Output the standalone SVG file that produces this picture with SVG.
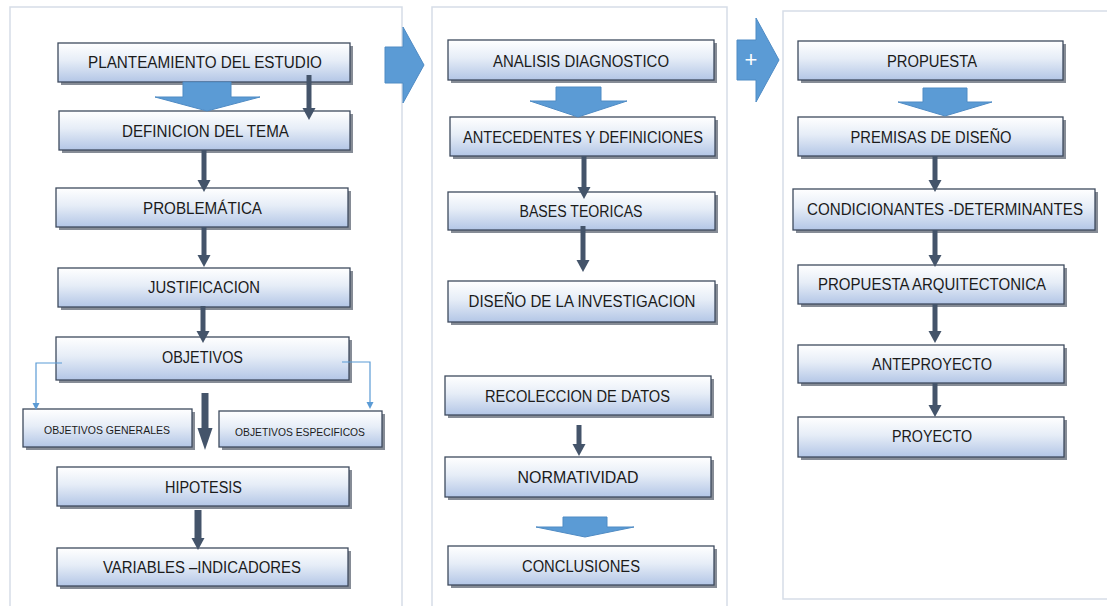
<svg xmlns="http://www.w3.org/2000/svg" width="1107" height="606" viewBox="0 0 1107 606">
<defs>
<linearGradient id="g" x1="0" y1="0" x2="0" y2="1">
<stop offset="0" stop-color="#ffffff"/>
<stop offset="0.45" stop-color="#e6edf7"/>
<stop offset="1" stop-color="#b3c6e6"/>
</linearGradient>
<marker id="ah" markerUnits="userSpaceOnUse" markerWidth="14" markerHeight="14" refX="0" refY="7" orient="auto">
<path d="M0,0.5 L12,7 L0,13.5 z" fill="#44546a"/>
</marker>
<marker id="ahL" markerUnits="userSpaceOnUse" markerWidth="24" markerHeight="16" refX="0" refY="8" orient="auto">
<path d="M0,0.5 L22,8 L0,15.5 z" fill="#44546a"/>
</marker>
<marker id="ahB" markerUnits="userSpaceOnUse" markerWidth="8" markerHeight="8" refX="0" refY="4" orient="auto">
<path d="M0,0.5 L7,4 L0,7.5 z" fill="#5b9bd5"/>
</marker>
<style>
.panel{fill:none;stroke:#d6dde7;stroke-width:1.5}
.sh{fill:#868c96}
.bx{fill:url(#g);stroke:#3e4b5e;stroke-width:1.3}
.t{font-family:"Liberation Sans",Arial,sans-serif;font-size:16px;fill:#1b1b1b;text-anchor:middle}
.ts{font-family:"Liberation Sans",Arial,sans-serif;font-size:11px;fill:#1b1b1b;text-anchor:middle}
.dk{stroke:#44546a;stroke-width:5;fill:none;marker-end:url(#ah)}
.dkL{stroke:#44546a;stroke-width:7;fill:none;marker-end:url(#ahL)}
.lb{stroke:#5b9bd5;stroke-width:1.2;fill:none;marker-end:url(#ahB)}
.blk{fill:#5b9bd5;stroke:#4f8bc4;stroke-width:1}
</style>
</defs>
<rect width="1107" height="606" fill="#ffffff"/>
<g id="panels">
<rect class="panel" x="10" y="7" width="392" height="610"/>
<rect class="panel" x="432" y="7" width="295" height="610"/>
<rect class="panel" x="783" y="11" width="340" height="588"/>
</g>
<g id="n1"><rect class="sh" x="61" y="46" width="292" height="39"/><rect class="bx" x="58" y="43" width="292" height="39"/><text class="t" x="205" y="68" textLength="234" lengthAdjust="spacingAndGlyphs">PLANTEAMIENTO DEL ESTUDIO</text></g>
<g id="n2"><rect class="sh" x="62" y="114" width="291" height="39"/><rect class="bx" x="59" y="111" width="291" height="39"/><text class="t" x="205.5" y="137" textLength="167" lengthAdjust="spacingAndGlyphs">DEFINICION DEL TEMA</text></g>
<g id="n3"><rect class="sh" x="59" y="191" width="292" height="39"/><rect class="bx" x="56" y="188" width="292" height="39"/><text class="t" x="202.5" y="214" textLength="119" lengthAdjust="spacingAndGlyphs">PROBLEMÁTICA</text></g>
<g id="n4"><rect class="sh" x="61" y="271" width="292" height="39"/><rect class="bx" x="58" y="268" width="292" height="39"/><text class="t" x="204" y="293" textLength="112" lengthAdjust="spacingAndGlyphs">JUSTIFICACION</text></g>
<g id="n5"><rect class="sh" x="59" y="340" width="293" height="43"/><rect class="bx" x="56" y="337" width="293" height="43"/><text class="t" x="202.5" y="363" textLength="81" lengthAdjust="spacingAndGlyphs">OBJETIVOS</text></g>
<g id="n6"><rect class="sh" x="26" y="412" width="169" height="38"/><rect class="bx" x="23" y="409" width="169" height="38"/><text class="ts" x="107" y="434" textLength="126" lengthAdjust="spacingAndGlyphs">OBJETIVOS GENERALES</text></g>
<g id="n7"><rect class="sh" x="222" y="414" width="163" height="36"/><rect class="bx" x="219" y="411" width="163" height="36"/><text class="ts" x="300" y="436" textLength="130" lengthAdjust="spacingAndGlyphs">OBJETIVOS ESPECIFICOS</text></g>
<g id="n8"><rect class="sh" x="60" y="470" width="292" height="39"/><rect class="bx" x="57" y="467" width="292" height="39"/><text class="t" x="203.5" y="493" textLength="77" lengthAdjust="spacingAndGlyphs">HIPOTESIS</text></g>
<g id="n9"><rect class="sh" x="60" y="551" width="291" height="38"/><rect class="bx" x="57" y="548" width="291" height="38"/><text class="t" x="202" y="573" textLength="198" lengthAdjust="spacingAndGlyphs">VARIABLES –INDICADORES</text></g>
<g id="n10"><rect class="sh" x="451" y="43" width="266" height="40"/><rect class="bx" x="448" y="40" width="266" height="40"/><text class="t" x="581" y="67" textLength="176" lengthAdjust="spacingAndGlyphs">ANALISIS DIAGNOSTICO</text></g>
<g id="n11"><rect class="sh" x="453" y="120" width="265" height="39"/><rect class="bx" x="450" y="117" width="265" height="39"/><text class="t" x="583" y="143" textLength="240" lengthAdjust="spacingAndGlyphs">ANTECEDENTES Y DEFINICIONES</text></g>
<g id="n12"><rect class="sh" x="451" y="195" width="267" height="38"/><rect class="bx" x="448" y="192" width="267" height="38"/><text class="t" x="581" y="217" textLength="123" lengthAdjust="spacingAndGlyphs">BASES TEORICAS</text></g>
<g id="n13"><rect class="sh" x="451" y="284" width="267" height="41"/><rect class="bx" x="448" y="281" width="267" height="41"/><text class="t" x="582" y="307" textLength="227" lengthAdjust="spacingAndGlyphs">DISEÑO DE LA INVESTIGACION</text></g>
<g id="n14"><rect class="sh" x="448" y="379" width="266" height="39"/><rect class="bx" x="445" y="376" width="266" height="39"/><text class="t" x="577.5" y="402" textLength="185" lengthAdjust="spacingAndGlyphs">RECOLECCION DE DATOS</text></g>
<g id="n15"><rect class="sh" x="448" y="460" width="266" height="40"/><rect class="bx" x="445" y="457" width="266" height="40"/><text class="t" x="578" y="483" textLength="121" lengthAdjust="spacingAndGlyphs">NORMATIVIDAD</text></g>
<g id="n16"><rect class="sh" x="451" y="549" width="266" height="39"/><rect class="bx" x="448" y="546" width="266" height="39"/><text class="t" x="581" y="572" textLength="118" lengthAdjust="spacingAndGlyphs">CONCLUSIONES</text></g>
<g id="n17"><rect class="sh" x="801" y="44" width="265" height="39"/><rect class="bx" x="798" y="41" width="265" height="39"/><text class="t" x="932" y="67" textLength="90" lengthAdjust="spacingAndGlyphs">PROPUESTA</text></g>
<g id="n18"><rect class="sh" x="801" y="120" width="265" height="39"/><rect class="bx" x="798" y="117" width="265" height="39"/><text class="t" x="931" y="143" textLength="161" lengthAdjust="spacingAndGlyphs">PREMISAS DE DISEÑO</text></g>
<g id="n19"><rect class="sh" x="796" y="192" width="302" height="41"/><rect class="bx" x="793" y="189" width="302" height="41"/><text class="t" x="945" y="215" textLength="276" lengthAdjust="spacingAndGlyphs">CONDICIONANTES -DETERMINANTES</text></g>
<g id="n20"><rect class="sh" x="801" y="268" width="266" height="39"/><rect class="bx" x="798" y="265" width="266" height="39"/><text class="t" x="932" y="290" textLength="228" lengthAdjust="spacingAndGlyphs">PROPUESTA ARQUITECTONICA</text></g>
<g id="n21"><rect class="sh" x="801" y="348" width="266" height="38"/><rect class="bx" x="798" y="345" width="266" height="38"/><text class="t" x="932" y="370" textLength="120" lengthAdjust="spacingAndGlyphs">ANTEPROYECTO</text></g>
<g id="n22"><rect class="sh" x="801" y="420" width="266" height="40"/><rect class="bx" x="798" y="417" width="266" height="40"/><text class="t" x="932" y="442" textLength="80" lengthAdjust="spacingAndGlyphs">PROYECTO</text></g>
<g id="connectors">
<polygon class="blk" points="385,47 403,47 403,27 424,65 403,103 403,83 385,83"/>
<polygon class="blk" points="737,40 756,40 756,18 779,60 756,102 756,80 737,80"/>
<text x="751" y="67" font-family="Liberation Sans,Arial,sans-serif" font-size="22" fill="#ffffff" text-anchor="middle">+</text>
<polygon class="blk" points="183,82 231,82 231,97 260,97 207,111 155,97 183,97"/>
<polygon class="blk" points="556,87 601,87 601,101 627,101 578,117 530,101 556,101"/>
<polygon class="blk" points="923,88 967,88 967,102 992,102 945,116 898,102 923,102"/>
<polygon class="blk" points="563,517 607,517 607,527 634,527 585,537 536,527 563,527"/>
<line class="dk" x1="309" y1="75" x2="309" y2="108"/>
<line class="dk" x1="204" y1="150" x2="204" y2="180"/>
<line class="dk" x1="204" y1="227" x2="204" y2="255"/>
<line class="dk" x1="203" y1="306" x2="203" y2="331"/>
<line class="dkL" x1="205" y1="393" x2="205" y2="428"/>
<line class="dk" x1="198" y1="510" x2="198" y2="538" style="stroke-width:7"/>
<line class="dk" x1="584" y1="156" x2="584" y2="187"/>
<line class="dk" x1="583" y1="226" x2="583" y2="260"/>
<line class="dk" x1="579" y1="425" x2="579" y2="444"/>
<line class="dk" x1="935" y1="156" x2="935" y2="180"/>
<line class="dk" x1="935" y1="230" x2="935" y2="255"/>
<line class="dk" x1="935" y1="304" x2="935" y2="331"/>
<line class="dk" x1="935" y1="383" x2="935" y2="405"/>
<polyline class="lb" points="62,363 36,363 36,403"/>
<polyline class="lb" points="342,362 370,362 370,402"/>
</g>
</svg>
